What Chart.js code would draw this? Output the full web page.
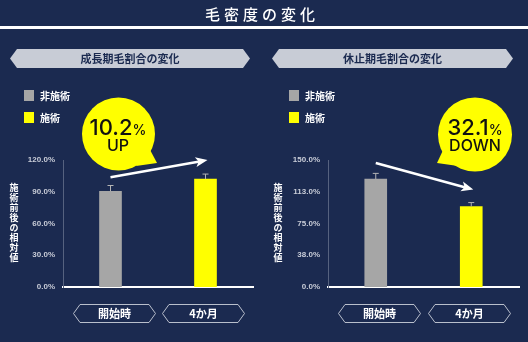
<!DOCTYPE html>
<html>
<head>
<meta charset="utf-8">
<script src="https://cdn.jsdelivr.net/npm/chart.js@4.4.1/dist/chart.umd.min.js"></script>
<style>
  body { margin: 0; width: 528px; height: 342px; overflow: hidden; position: relative;
         background: #1b2a50; font-family: "Noto Sans CJK JP", sans-serif; }
  canvas { position: absolute; top: 0; }
  #overlay { position: absolute; left: 0; top: 0; pointer-events: none; }
  .ytitle { position: absolute; top: 183px; width: 10px; word-break: break-all; text-align: center;
            font-size: 9px; font-weight: 700; color: #fff; line-height: 10px; }
  .legend { position: absolute; font-size: 10px; font-weight: 700; color: #fff; line-height: 11px; }
  .legend span { display: inline-block; width: 10px; height: 11px; vertical-align: top; margin-right: 6px; }
</style>
</head>
<body>
<canvas id="growth" width="264" height="342" style="left:0"></canvas>
<canvas id="rest" width="264" height="342" style="left:264px"></canvas>

<div class="ytitle" style="left:9px">施術前後の相対値</div>
<div class="ytitle" style="left:273px">施術前後の相対値</div>

<div class="legend" style="left:24px;top:90px"><span style="background:#a6a6a6"></span>非施術</div>
<div class="legend" style="left:24px;top:112px"><span style="background:#ffff00"></span>施術</div>
<div class="legend" style="left:289px;top:90px"><span style="background:#a6a6a6"></span>非施術</div>
<div class="legend" style="left:289px;top:112px"><span style="background:#ffff00"></span>施術</div>

<svg id="overlay" width="528" height="342">
  <!-- header -->
  <rect x="0" y="26" width="528" height="3" fill="#ffffff"/>
  <text x="262" y="20" text-anchor="middle" fill="#fff" font-size="15" font-weight="500" letter-spacing="4"
        font-family="Noto Sans CJK JP">毛密度の変化</text>

  <!-- panel banners -->
  <polygon points="10,58.5 17,49 243,49 250,58.5 243,68 17,68" fill="#c8ccd6"/>
  <text x="130" y="62.5" text-anchor="middle" fill="#1b2a50" font-size="11" font-weight="700"
        font-family="Noto Sans CJK JP">成長期毛割合の変化</text>
  <polygon points="272,58.5 279,49 506,49 513,58.5 506,68 279,68" fill="#c8ccd6"/>
  <text x="392.5" y="62.5" text-anchor="middle" fill="#1b2a50" font-size="11" font-weight="700"
        font-family="Noto Sans CJK JP">休止期毛割合の変化</text>

  <!-- speech bubbles -->
  <circle cx="118.5" cy="134" r="36.5" fill="#ffff00"/>
  <polygon points="148,146 157,163 136,166" fill="#ffff00"/>
  <text x="118" y="135" text-anchor="middle" fill="#111" font-family="Inter" font-weight="500">
    <tspan font-size="22">10.2</tspan><tspan font-size="14">%</tspan></text>
  <text x="118" y="151" text-anchor="middle" fill="#111" font-family="Inter" font-weight="500" font-size="16">UP</text>

  <circle cx="475" cy="134.5" r="37" fill="#ffff00"/>
  <polygon points="445,146 437,163 458,166" fill="#ffff00"/>
  <text x="475" y="135" text-anchor="middle" fill="#111" font-family="Inter" font-weight="500">
    <tspan font-size="22">32.1</tspan><tspan font-size="14">%</tspan></text>
  <text x="475" y="151" text-anchor="middle" fill="#111" font-family="Inter" font-weight="500" font-size="16">DOWN</text>

  <!-- category boxes -->
  <g fill="none" stroke="#b9bfcc" stroke-width="1">
    <polygon points="73.5,313.5 80,304.5 149,304.5 155.5,313.5 149,322.5 80,322.5"/>
    <polygon points="162.5,313.5 169,304.5 238,304.5 244.5,313.5 238,322.5 169,322.5"/>
    <polygon points="338.5,313.5 345,304.5 414,304.5 420.5,313.5 414,322.5 345,322.5"/>
    <polygon points="428.5,313.5 435,304.5 504,304.5 510.5,313.5 504,322.5 435,322.5"/>
  </g>
  <g fill="#fff" font-size="11" font-weight="700" font-family="Noto Sans CJK JP" text-anchor="middle">
    <text x="114.5" y="317.5" id="c0"></text>
    <text x="203.5" y="317.5" id="c1"></text>
    <text x="379.5" y="317.5" id="c2"></text>
    <text x="469.5" y="317.5" id="c3"></text>
  </g>
</svg>

<script>
const categories = ['開始時', '4か月'];
const seriesNames = ['非施術', '施術'];

const growthValues = [90.5, 102];
const growthErrors = [5.4, 4.7];
const growthTicks = [0, 30, 60, 90, 120];

const restValues = [127.5, 95];
const restErrors = [6.7, 4.7];
const restTicks = [0, 37.5, 75, 112.5, 150];

const barColors = ['#a6a6a6', '#ffff00'];

document.getElementById('c0').textContent = categories[0];
document.getElementById('c1').textContent = categories[1];
document.getElementById('c2').textContent = categories[0];
document.getElementById('c3').textContent = categories[1];

// error bars on top of each bar
const errorBars = {
    id: 'errorBars',
    afterDatasetsDraw(chart, args, opts) {
        const c = chart.ctx;
        const y = chart.scales.y;
        const meta = chart.getDatasetMeta(0);
        const ds = chart.data.datasets[0];
        c.save();
        c.strokeStyle = '#b4b4b4';
        c.lineWidth = 1;
        meta.data.forEach(function(bar, i) {
            const top = y.getPixelForValue(ds.data[i] + opts.errors[i]);
            c.beginPath();
            c.moveTo(bar.x, bar.y);
            c.lineTo(bar.x, top);
            c.moveTo(bar.x - 3, top);
            c.lineTo(bar.x + 3, top);
            c.stroke();
        });
        c.restore();
    }
};

// white trend arrow from bar to bar
const trendArrow = {
    id: 'trendArrow',
    afterDatasetsDraw(chart, args, opts) {
        const c = chart.ctx;
        const bars = chart.getDatasetMeta(0).data;
        const x1 = bars[0].x, y1 = bars[0].y - opts.lift[0];
        const x2 = bars[1].x + 2, y2 = bars[1].y - opts.lift[1];
        const a = Math.atan2(y2 - y1, x2 - x1);
        c.save();
        c.strokeStyle = '#fff';
        c.fillStyle = '#fff';
        c.lineWidth = 2.5;
        c.beginPath();
        c.moveTo(x1, y1);
        c.lineTo(x2 - 8 * Math.cos(a), y2 - 8 * Math.sin(a));
        c.stroke();
        c.beginPath();
        c.moveTo(x2, y2);
        c.lineTo(x2 - 12 * Math.cos(a) + 5 * Math.sin(a), y2 - 12 * Math.sin(a) - 5 * Math.cos(a));
        c.lineTo(x2 - 9 * Math.cos(a), y2 - 9 * Math.sin(a));
        c.lineTo(x2 - 12 * Math.cos(a) - 5 * Math.sin(a), y2 - 12 * Math.sin(a) + 5 * Math.cos(a));
        c.closePath();
        c.fill();
        c.restore();
    }
};

function createchart(id, values, errors, ticks, axisWidth, rightPad, lift) {
    return new Chart(document.getElementById(id), {
        type: 'bar',
        data: {
            labels: categories,
            datasets: [{
                label: seriesNames.join('/'),
                data: values,
                backgroundColor: barColors,
                barThickness: 22
            }]
        },
        options: {
            responsive: false,
            animation: false,
            layout: { padding: { top: 160, right: rightPad, bottom: 55, left: 0 } },
            plugins: {
                legend: { display: false },
                tooltip: { enabled: false },
                errorBars: { errors: errors },
                trendArrow: { lift: lift }
            },
            scales: {
                x: {
                    grid: { display: false },
                    ticks: { display: false },
                    border: { color: '#ffffff', width: 2 },
                    afterFit(scale) { scale.height = 0; }
                },
                y: {
                    min: ticks[0],
                    max: ticks[ticks.length - 1],
                    afterBuildTicks(scale) { scale.ticks = ticks.map(v => ({ value: v })); },
                    grid: { display: false, drawTicks: false },
                    border: { color: '#56627f', width: 1 },
                    ticks: {
                        padding: 8,
                        color: '#c9cdd8',
                        font: { family: 'Liberation Sans', size: 8, weight: 'bold' },
                        callback: v => Math.round(v).toFixed(1) + '%'
                    },
                    afterFit(scale) { scale.width = axisWidth; }
                }
            }
        },
        plugins: [errorBars, trendArrow]
    });
}

createchart('growth', growthValues, growthErrors, growthTicks, 63, 11, [14, 19]);
createchart('rest', restValues, restErrors, restTicks, 64, 9, [16, 17]);
</script>
</body>
</html>
